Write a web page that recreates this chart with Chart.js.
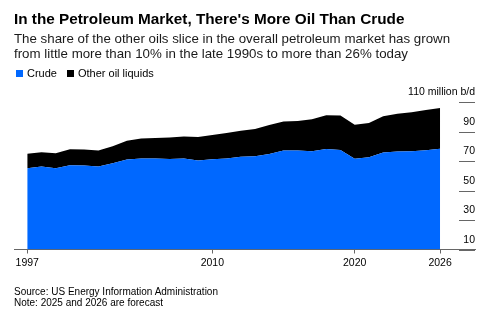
<!DOCTYPE html>
<html>
<head>
<meta charset="utf-8">
<script src="https://cdn.jsdelivr.net/npm/chart.js@4/dist/chart.umd.min.js"></script>
<style>
  html, body { margin: 0; padding: 0; background: #fff; }
  #wrap { position: relative; width: 498px; height: 321px; overflow: hidden; font-family: "Liberation Sans", Arial, sans-serif; color: #000; }
  #c { position: absolute; left: 0; top: 0; }
  .t { position: absolute; white-space: nowrap; }
  #title { left: 14px; top: 10px; font-size: 15.3px; font-weight: bold; line-height: 18px; }
  #sub { left: 14px; top: 31px; font-size: 13.3px; line-height: 15px; color: #1a1a1a; }
  #legend { left: 16px; top: 66px; font-size: 11px; line-height: 14px; }
  .sw { display: inline-block; width: 7px; height: 7px; margin-right: 4px; vertical-align: 0px; }
  .li { display: inline-block; margin-right: 10px; }
  #foot { left: 14px; top: 286px; font-size: 10px; line-height: 11px; }
</style>
</head>
<body>
<div id="wrap">
  <canvas id="c" width="498" height="321"></canvas>
  <div class="t" id="title">In the Petroleum Market, There's More Oil Than Crude</div>
  <div class="t" id="sub">The share of the other oils slice in the overall petroleum market has grown<br>from little more than 10% in the late 1990s to more than 26% today</div>
  <div class="t" id="legend"><span class="li"><span class="sw" style="background:#0068ff"></span>Crude</span><span class="li"><span class="sw" style="background:#000"></span>Other oil liquids</span></div>
  <div class="t" id="foot">Source: US Energy Information Administration<br>Note: 2025 and 2026 are forecast</div>
</div>
<script>
const years = [1997,1998,1999,2000,2001,2002,2003,2004,2005,2006,2007,2008,2009,2010,2011,2012,2013,2014,2015,2016,2017,2018,2019,2020,2021,2022,2023,2024,2025,2026];
const crude = [65.1,66.2,65.1,67.1,66.9,66.2,68.5,71.0,71.7,71.7,71.3,71.7,70.3,71.2,71.7,72.9,73.2,74.8,77.1,77.1,76.6,78.2,77.5,71.5,72.5,75.7,76.4,76.6,77.3,78.3];
const total = [74.9,75.9,75.2,78.0,77.8,77.1,80.0,83.7,85.3,85.6,85.9,86.6,86.2,87.6,89.0,90.5,91.7,94.4,96.7,97.1,98.3,101.0,100.9,94.6,95.8,100.3,102.1,103.0,104.6,105.9];
const otherLiquids = total.map((t, i) => +(t - crude[i]).toFixed(1));
const xTickYears = [1997, 2010, 2020, 2026];
const yTickValues = [10, 30, 50, 70, 90, 110];
const yUnit = "million b/d";

const BLUE = "#0068ff";
const AXIS = "#666666";
const FONT = "'Liberation Sans', Arial, sans-serif";

const shortGrid = {
  id: "shortGrid",
  afterDatasetsDraw(chart) {
    const y = chart.scales.y;
    const ctx = chart.ctx;
    const right = chart.chartArea.right;
    ctx.save();
    ctx.strokeStyle = AXIS;
    ctx.lineWidth = 1;
    yTickValues.forEach(v => {
      const py = Math.round(y.getPixelForValue(v)) + 0.5;
      ctx.beginPath();
      ctx.moveTo(right - 16, py);
      ctx.lineTo(right, py);
      ctx.stroke();
    });
    ctx.restore();
  }
};

new Chart(document.getElementById("c"), {
  type: "line",
  data: {
    datasets: [
      {
        label: "Crude",
        data: years.map((yr, i) => ({ x: yr, y: crude[i] })),
        backgroundColor: BLUE,
        borderColor: BLUE,
        borderWidth: 0,
        pointRadius: 0,
        fill: "start",
        tension: 0
      },
      {
        label: "Other oil liquids",
        data: years.map((yr, i) => ({ x: yr, y: otherLiquids[i] })),
        backgroundColor: "#000000",
        borderColor: "#000000",
        borderWidth: 0,
        pointRadius: 0,
        fill: "-1",
        tension: 0
      }
    ]
  },
  options: {
    responsive: false,
    animation: false,
    devicePixelRatio: 1,
    layout: { padding: { left: 14, right: 23, top: 102, bottom: 0 } },
    plugins: { legend: { display: false }, tooltip: { enabled: false } },
    scales: {
      x: {
        type: "linear",
        min: 1996.07,
        max: 2028.45,
        afterBuildTicks: s => { s.ticks = xTickYears.map(v => ({ value: v })); },
        afterFit: s => { s.height = 71.5; },
        grid: { drawOnChartArea: false, drawTicks: true, tickLength: 4, color: AXIS },
        border: { display: true, color: AXIS, width: 1 },
        ticks: {
          callback: v => String(v),
          color: "#000",
          font: { family: FONT, size: 10.5 },
          padding: 3,
          maxRotation: 0,
          autoSkip: false
        }
      },
      y: {
        type: "linear",
        position: "right",
        stacked: true,
        min: 10,
        max: 110,
        afterBuildTicks: s => { s.ticks = yTickValues.map(v => ({ value: v })); },
        afterFit: s => { s.width = 0; },
        grid: { display: false, drawTicks: false },
        border: { display: false },
        ticks: {
          mirror: true,
          padding: 0,
          labelOffset: -9.5,
          color: "#000",
          font: { family: FONT, size: 10.5 },
          callback: v => v === 110 ? v + " " + yUnit : String(v)
        }
      }
    }
  },
  plugins: [shortGrid]
});
</script>
</body>
</html>
